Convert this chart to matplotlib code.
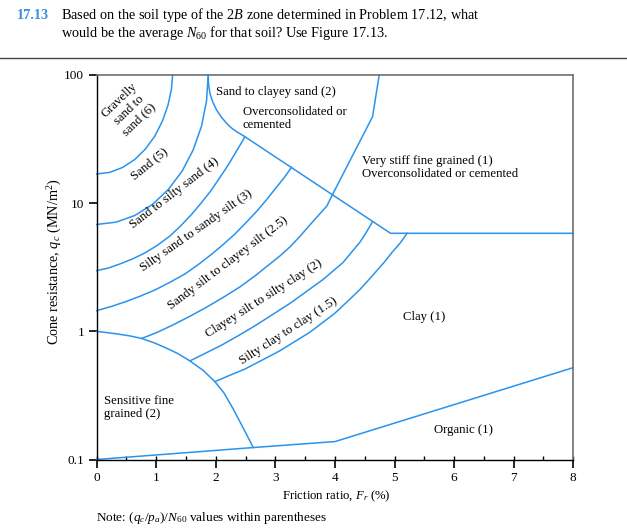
import matplotlib
matplotlib.use('Agg')
import matplotlib.pyplot as plt
from matplotlib.lines import Line2D
from matplotlib.ticker import MultipleLocator, NullLocator

plt.rcParams['font.family'] = ['Liberation Serif', 'DejaVu Serif']
plt.rcParams['mathtext.fontset'] = 'custom'
plt.rcParams['mathtext.rm'] = 'Liberation Serif'
plt.rcParams['mathtext.it'] = 'Liberation Serif:italic'
plt.rcParams['mathtext.bf'] = 'Liberation Serif:bold'

# zone boundaries: friction ratio Fr (%) vs cone resistance qc (MN/m2)
fr_gravel = [0, 0.221, 0.436, 0.638, 0.820, 0.977, 1.104, 1.198, 1.255, 1.275]
qc_gravel = [16.9, 17.4, 19.0, 21.9, 26.5, 33.4, 43.8, 58.3, 77.8, 100]

fr_sand = [0, 0.326, 0.641, 0.936, 1.203, 1.435, 1.621, 1.760, 1.844, 1.872]
qc_sand = [6.82, 7.11, 8.02, 9.77, 12.8, 17.8, 26.1, 39.9, 62.7, 100]

fr_cemented = [1.872, 1.878, 1.901, 1.948, 2.013, 2.091, 2.181, 2.262, 2.349, 2.488, 4.933, 8.0]
qc_cemented = [100, 85.1, 71.9, 61.6, 53.3, 47.0, 42.0, 38.6, 36.1, 33.0, 5.82, 5.82]

fr_silty_sand = [0, 0.190, 0.391, 0.600, 0.810, 1.020, 1.230, 1.414, 1.599,
                 1.750, 1.901, 2.027, 2.153, 2.245, 2.337, 2.413, 2.488]
qc_silty_sand = [2.976, 3.112, 3.356, 3.670, 4.089, 4.695, 5.548, 6.675, 8.236,
                 9.98, 12.23, 14.85, 18.16, 21.22, 25.08, 28.65, 33.0]

fr_sandy_silt = [0, 0.240, 0.475, 0.727, 0.978, 1.230, 1.482, 1.708, 1.935,
                 2.128, 2.321, 2.513, 2.706, 2.857, 3.008, 3.143, 3.272]
qc_sandy_silt = [1.450, 1.561, 1.696, 1.878, 2.103, 2.415, 2.804, 3.325, 4.016,
                 4.780, 5.751, 7.096, 8.851, 10.72, 13.14, 15.73, 19.05]

fr_clayey_silt = [0.755, 1.012, 1.280, 1.565, 1.851, 2.128, 2.404, 2.656, 2.908,
                  3.076, 3.243, 3.411, 3.579, 3.721, 3.864, 3.970, 4.631, 4.742]
qc_clayey_silt = [0.880, 0.980, 1.122, 1.311, 1.550, 1.845, 2.220, 2.705, 3.356,
                  3.874, 4.553, 5.499, 6.761, 8.020, 9.511, 11.95, 47.3, 100]

fr_silty_clay = [1.565, 1.834, 2.102, 2.388, 2.673, 2.958, 3.243, 3.520, 3.797,
                 3.965, 4.133, 4.275, 4.418, 4.525, 4.631]
qc_silty_clay = [0.588, 0.678, 0.783, 0.931, 1.116, 1.357, 1.651, 2.044, 2.531,
                 2.949, 3.435, 4.126, 4.955, 5.908, 7.173]

fr_clay = [1.985, 2.237, 2.488, 2.782, 3.075, 3.327, 3.579, 3.789, 3.998,
           4.208, 4.418, 4.628, 4.837, 4.963, 5.089, 5.211]
qc_clay = [0.405, 0.4545, 0.508, 0.598, 0.705, 0.833, 0.984, 1.167, 1.384,
           1.708, 2.119, 2.715, 3.504, 4.163, 4.849, 5.82]

fr_sensitive = [0, 0.336, 0.559, 0.755, 0.978, 1.174, 1.364, 1.565, 1.789,
                1.985, 2.136, 2.292, 2.460, 2.628]
qc_sensitive = [1.0, 0.956, 0.921, 0.880, 0.809, 0.738, 0.670, 0.588, 0.495,
                0.405, 0.331, 0.248, 0.176, 0.124]

fr_organic = [0, 2.63, 4.0, 8.0]
qc_organic = [0.1, 0.124, 0.138, 0.521]

boundaries = [(fr_gravel, qc_gravel), (fr_sand, qc_sand), (fr_cemented, qc_cemented),
              (fr_silty_sand, qc_silty_sand), (fr_sandy_silt, qc_sandy_silt),
              (fr_clayey_silt, qc_clayey_silt), (fr_silty_clay, qc_silty_clay),
              (fr_clay, qc_clay), (fr_sensitive, qc_sensitive), (fr_organic, qc_organic)]

# rotated zone names along the arcs
arc_labels = ['Gravelly\nsand to\nsand (6)', 'Sand (5)', 'Sand to silty sand (4)',
              'Silty sand to sandy silt (3)', 'Sandy silt to clayey silt (2.5)',
              'Clayey silt to silty clay (2)', 'Silty clay to clay (1.5)']
arc_fr = [0.54, 0.89, 1.31, 1.67, 2.21, 2.81, 3.22]
arc_qc = [53.4, 20.2, 11.9, 6.07, 3.39, 1.79, 1.01]
arc_rot = [44, 39, 37.5, 35, 37, 32.5, 33]

# flat zone names (left aligned)
flat_labels = ['Sand to clayey sand (2)', 'Overconsolidated or\ncemented',
               'Very stiff fine grained (1)\nOverconsolidated or cemented',
               'Sensitive fine\ngrained (2)']
flat_fr = [2.0, 2.45, 4.45, 0.12]
flat_qc = [73.3, 46.0, 19.0, 0.254]

center_labels = ['Clay (1)', 'Organic (1)']
center_fr = [5.49, 6.15]
center_qc = [1.29, 0.170]

x_ticks = [0, 1, 2, 3, 4, 5, 6, 7, 8]
y_ticks = [0.1, 1, 10, 100]
y_ticklabels = ['0.1', '1', '10', '100']

blue = '#2a93ec'
fs = 9.2

fig = plt.figure(figsize=(6.27, 5.30), dpi=100)
ax = fig.add_axes([0.1542, 0.1330, 0.7601, 0.7255])

for fr, qc in boundaries:
    ax.plot(fr, qc, color=blue, lw=1.1, solid_joinstyle='round', clip_on=False)

for t, x, y, r in zip(arc_labels, arc_fr, arc_qc, arc_rot):
    ax.text(x, y, t, rotation=r, rotation_mode='anchor', ha='center', va='center',
            multialignment='center', fontsize=fs, linespacing=1.2)
for t, x, y in zip(flat_labels, flat_fr, flat_qc):
    ax.text(x, y, t, ha='left', va='center', fontsize=fs, linespacing=1.15)
for t, x, y in zip(center_labels, center_fr, center_qc):
    ax.text(x, y, t, ha='center', va='center', fontsize=fs)

ax.set_yscale('log')
ax.set_xlim(0, 8)
ax.set_ylim(0.1, 100)
ax.set_yticks(y_ticks)
ax.set_yticklabels(y_ticklabels)
ax.yaxis.set_minor_locator(NullLocator())
ax.set_xticks(x_ticks)
ax.xaxis.set_minor_locator(MultipleLocator(0.5))
ax.xaxis.remove_overlapping_locs = False
ax.tick_params(axis='y', which='major', direction='out', length=6, width=1.2, pad=3, labelsize=9.5)
ax.tick_params(axis='x', which='major', direction='out', length=6, width=1.2, pad=3, labelsize=9.5)
ax.tick_params(axis='x', which='minor', direction='in', length=3, width=1.0)

for s in ['top', 'right']:
    ax.spines[s].set_color('#707070')
    ax.spines[s].set_linewidth(1.2)
for s in ['left', 'bottom']:
    ax.spines[s].set_color('black')
    ax.spines[s].set_linewidth(1.0)

fig.text(336 / 627, 1 - 496 / 530, 'Friction ratio, $F_r$ (%)', ha='center', va='center', fontsize=fs)
fig.text(55 / 627, 1 - 262 / 530, 'Cone resistance, $q_c$ (MN/m$^2$)', rotation=90,
         ha='center', va='center', fontsize=10.3)
fig.text(96 / 627, 1 - 518 / 530, 'Note: ($q_c$/$p_a$)/$N_{60}$ values within parentheses',
         ha='left', va='center', fontsize=9.5)

# problem statement header
hs = 10.3
fig.text(17 / 627, 1 - 19.3 / 530, '17.13', color='#3b8fe0', fontweight='bold', fontsize=hs, va='baseline')
fig.text(61 / 627, 1 - 19.3 / 530,
         'Based on the soil type of the 2$B$ zone determined in Problem 17.12, what',
         fontsize=hs, va='baseline')
fig.text(61 / 627, 1 - 37.3 / 530,
         'would be the average $N_{60}$ for that soil? Use Figure 17.13.',
         fontsize=hs, va='baseline')
fig.add_artist(Line2D([0, 1], [1 - 58.3 / 530] * 2, transform=fig.transFigure, color='#444444', lw=1.0))

fig.savefig('out.png', dpi=100)
